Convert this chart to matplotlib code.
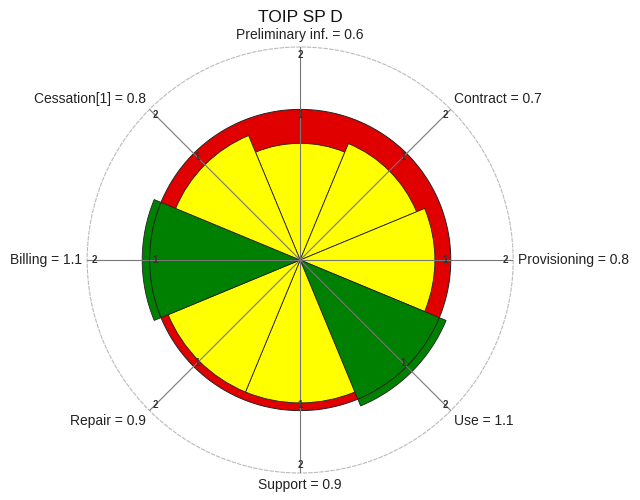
import matplotlib
matplotlib.use("Agg")
import matplotlib.pyplot as plt
import numpy as np

plt.rcParams["font.family"] = ["Liberation Sans", "DejaVu Sans"]

# data
categories = ["Preliminary inf.", "Contract", "Provisioning", "Use",
              "Support", "Repair", "Billing", "Cessation[1]"]
values = [0.6, 0.7, 0.8, 1.1, 0.9, 0.9, 1.1, 0.8]
target = 1.0
r_ticks = [1, 2]
title = "TOIP SP D"

n = len(categories)
theta = np.arange(n) * 2 * np.pi / n
width = 2 * np.pi / n

fig = plt.figure(figsize=(6.4, 5.0), dpi=100)
ax = fig.add_axes([0.136, 0.054, 0.666, 0.852], projection="polar")
ax.set_theta_zero_location("N")
ax.set_theta_direction(-1)
# area of wedge proportional to value
ax.set_rscale("function", functions=(np.sqrt, np.square))
ax.set_rlim(0, max(r_ticks))

# red target disk
ax.bar(0, target, width=2 * np.pi, bottom=0, color="#E00000", linewidth=0, zorder=1)

colors = ["#FFFF00" if v < target else "#008000" for v in values]
ax.bar(theta, values, width=width, bottom=0, color=colors,
       edgecolor="#222222", linewidth=0.6, zorder=2)

circ = np.linspace(0, 2 * np.pi, 400)
ax.plot(circ, np.full_like(circ, target), color="#222222", lw=0.7, zorder=3)

# axis lines
for t in theta:
    ax.plot([t, t], [0, max(r_ticks)], color="#777777", lw=0.8, zorder=3)
    for rt in r_ticks:
        ax.text(t, rt * 0.93, str(rt), ha="center", va="center",
                fontsize=7, fontweight="bold", color="#333333", zorder=4)

ax.grid(False)
ax.set_xticks([])
ax.set_yticks([])
ax.spines["polar"].set_linestyle((0, (3, 2)))
ax.spines["polar"].set_color("#BBBBBB")
ax.spines["polar"].set_linewidth(0.8)

for t, name, v in zip(theta, categories, values):
    s, c = np.sin(t), np.cos(t)
    ha = "left" if s > 0.1 else ("right" if s < -0.1 else "center")
    va = "bottom" if c > 0.1 else ("top" if c < -0.1 else "center")
    ax.text(t, 2.1, f"{name} = {v}", ha=ha, va=va, fontsize=10,
            color="#222222", clip_on=False)

fig.text(0.469, 0.966, title, ha="center", va="center", fontsize=12.5, color="#111111")

fig.savefig("out.png", dpi=100)
